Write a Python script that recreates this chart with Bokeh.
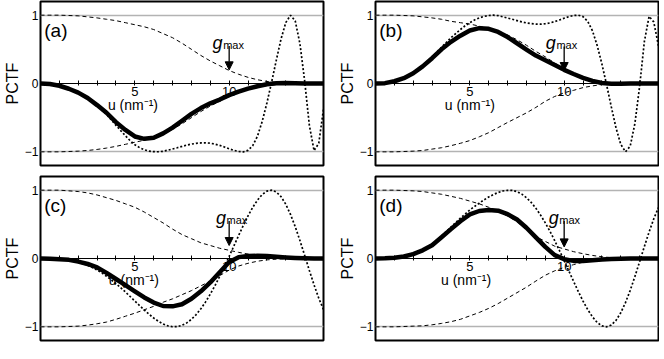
from bokeh.plotting import figure
from bokeh.models import Range1d, FixedTicker, Arrow, NormalHead
from bokeh.layouts import column, row
from bokeh.embed import file_html
from bokeh.resources import INLINE
from bokeh.core.properties import value

FONT = "Liberation Sans"

# sampling positions (nm^-1)
U_HALF = [0, 0.5, 1, 1.5, 2, 2.5, 3, 3.5, 4, 4.5, 5, 5.5, 6, 6.5, 7, 7.5, 8, 8.5, 9, 9.5,
          10, 10.5, 11, 11.5, 12, 12.5, 13, 13.5, 14, 14.5, 15]
U_QTR = [0, 0.25, 0.5, 0.75, 1, 1.25, 1.5, 1.75, 2, 2.25, 2.5, 2.75, 3, 3.25, 3.5, 3.75,
         4, 4.25, 4.5, 4.75, 5, 5.25, 5.5, 5.75, 6, 6.25, 6.5, 6.75, 7, 7.25, 7.5, 7.75,
         8, 8.25, 8.5, 8.75, 9, 9.25, 9.5, 9.75, 10, 10.25, 10.5, 10.75, 11, 11.25, 11.5,
         11.75, 12, 12.25, 12.5, 12.75, 13, 13.25, 13.5, 13.75, 14, 14.25, 14.5, 14.75, 15]

# ---- panel (a)
env_up_a = [1.0, 1.0, 1.0, 0.995, 0.99, 0.975, 0.96, 0.94, 0.92, 0.89, 0.86, 0.83, 0.79, 0.73,
            0.67, 0.59, 0.50, 0.41, 0.33, 0.26, 0.19, 0.135, 0.09, 0.055, 0.03, 0.015, 0.007,
            0.003, 0.001, 0.0, 0.0]
env_lo_a = [-1.0, -1.0, -1.0, -0.995, -0.99, -0.98, -0.965, -0.945, -0.92, -0.89, -0.86, -0.83,
            -0.79, -0.73, -0.67, -0.59, -0.50, -0.41, -0.33, -0.26, -0.19, -0.135, -0.09,
            -0.055, -0.03, -0.015, -0.007, -0.003, -0.001, 0.0, 0.0]
pctf_a = [0.0, -0.008, -0.033, -0.077, -0.134, -0.213, -0.316, -0.428, -0.565, -0.68, -0.775,
          -0.81, -0.795, -0.73, -0.645, -0.545, -0.445, -0.36, -0.29, -0.235, -0.17, -0.12,
          -0.075, -0.04, -0.01, 0.004, 0.006, 0.003, 0.0, 0.0, 0.0]
ctf_a = [0.0, -0.002, -0.008, -0.018, -0.033, -0.053, -0.077, -0.104, -0.135, -0.174, -0.218,
         -0.272, -0.329, -0.389, -0.453, -0.531, -0.613, -0.689, -0.764, -0.836, -0.896, -0.939,
         -0.969, -0.989, -0.998, -0.999, -0.992, -0.976, -0.958, -0.940, -0.921, -0.901,
         -0.887, -0.876, -0.870, -0.868, -0.874, -0.887, -0.906, -0.930, -0.956, -0.978,
         -0.995, -1.0, -0.978, -0.909, -0.771, -0.556, -0.286, 0.02, 0.343, 0.652, 0.891,
         0.999, 0.918, 0.584, 0.042, -0.612, -0.982, -0.875, -0.374]

# ---- panel (b)
env_up_b = [1.0, 1.0, 1.0, 0.995, 0.99, 0.975, 0.96, 0.94, 0.91, 0.89, 0.87, 0.84, 0.80, 0.76,
            0.71, 0.64, 0.56, 0.47, 0.39, 0.30, 0.21, 0.14, 0.085, 0.05, 0.025, 0.01, 0.004,
            0.001, 0.0, 0.0, 0.0]
env_lo_b = [-1.0, -1.0, -1.0, -0.995, -0.99, -0.98, -0.96, -0.94, -0.91, -0.875, -0.835, -0.78,
            -0.72, -0.645, -0.57, -0.50, -0.43, -0.35, -0.26, -0.19, -0.135, -0.10, -0.06,
            -0.035, -0.015, -0.005, 0.0, 0.0, 0.0, 0.0, 0.0]
pctf_b = [0.0, 0.005, 0.033, 0.078, 0.15, 0.25, 0.37, 0.50, 0.61, 0.70, 0.775, 0.81, 0.80,
          0.754, 0.68, 0.589, 0.497, 0.409, 0.341, 0.272, 0.20, 0.139, 0.083, 0.039, 0.007,
          -0.003, -0.004, -0.001, 0.0, 0.0, 0.0]
ctf_b = [0.0, 0.001, 0.005, 0.014, 0.035, 0.055, 0.08, 0.115, 0.16, 0.205, 0.26, 0.32,
         0.39, 0.46, 0.53, 0.60, 0.67, 0.73, 0.79, 0.845, 0.89, 0.93, 0.96, 0.982,
         0.995, 1.0, 0.993, 0.976, 0.958, 0.940, 0.921, 0.901, 0.887, 0.876, 0.870, 0.868,
         0.874, 0.887, 0.906, 0.930, 0.956, 0.978, 0.995, 1.0, 0.978, 0.909, 0.771, 0.556,
         0.286, -0.02, -0.343, -0.652, -0.891, -0.999, -0.918, -0.584, -0.042, 0.612, 0.982,
         0.90, 0.55]

# ---- panel (c)
env_up_c = [1.0, 1.0, 1.0, 0.99, 0.98, 0.96, 0.93, 0.89, 0.85, 0.80, 0.75, 0.68, 0.60, 0.52,
            0.43, 0.35, 0.29, 0.23, 0.19, 0.15, 0.12, 0.09, 0.065, 0.04, 0.02, 0.01, 0.005,
            0.002, 0.0, 0.0, 0.0]
env_lo_c = [-1.0, -1.0, -1.0, -0.995, -0.99, -0.975, -0.955, -0.93, -0.89, -0.845, -0.80,
            -0.75, -0.70, -0.64, -0.59, -0.53, -0.47, -0.40, -0.33, -0.25, -0.17, -0.11,
            -0.07, -0.04, -0.02, -0.01, -0.004, 0.0, 0.0, 0.0, 0.0]
pctf_c = [0.0, -0.002, -0.01, -0.02, -0.045, -0.08, -0.13, -0.21, -0.30, -0.39, -0.48, -0.57,
          -0.645, -0.695, -0.70, -0.67, -0.59, -0.48, -0.35, -0.20, -0.05, 0.02, 0.035, 0.04,
          0.035, 0.025, 0.015, 0.008, 0.003, 0.0, 0.0]
ctf_c = [0.0, -0.001, -0.003, -0.006, -0.01, -0.017, -0.026, -0.039, -0.055, -0.075, -0.101,
         -0.133, -0.169, -0.211, -0.259, -0.311, -0.367, -0.427, -0.49, -0.556, -0.622, -0.688,
         -0.753, -0.815, -0.871, -0.919, -0.958, -0.985, -0.999, -0.997, -0.978, -0.943,
         -0.890, -0.821, -0.736, -0.635, -0.521, -0.396, -0.26, -0.117, 0.032, 0.184, 0.335,
         0.484, 0.623, 0.748, 0.854, 0.936, 0.986, 1.0, 0.973, 0.905, 0.794, 0.645, 0.466,
         0.264, 0.046, -0.174, -0.387, -0.581, -0.747]

# ---- panel (d)
env_up_d = [1.0, 1.0, 1.0, 0.995, 0.99, 0.98, 0.96, 0.94, 0.91, 0.88, 0.84, 0.80, 0.75, 0.69,
            0.62, 0.54, 0.42, 0.32, 0.25, 0.18, 0.14, 0.10, 0.07, 0.045, 0.025, 0.012, 0.005,
            0.002, 0.0, 0.0, 0.0]
env_lo_d = [-1.0, -1.0, -1.0, -0.995, -0.99, -0.985, -0.97, -0.95, -0.925, -0.89, -0.84, -0.79,
            -0.73, -0.66, -0.58, -0.50, -0.42, -0.33, -0.245, -0.18, -0.13, -0.09, -0.055,
            -0.035, -0.02, -0.01, -0.004, 0.0, 0.0, 0.0, 0.0]
pctf_d = [0.0, 0.002, 0.01, 0.03, 0.065, 0.12, 0.195, 0.31, 0.43, 0.545, 0.645, 0.695, 0.71,
          0.70, 0.65, 0.57, 0.45, 0.31, 0.17, 0.05, -0.01, -0.035, -0.035, -0.025, -0.015,
          -0.008, -0.003, 0.0, 0.0, 0.0, 0.0]
ctf_d = [0.0, 0.001, 0.004, 0.009, 0.016, 0.026, 0.04, 0.057, 0.078, 0.103, 0.131, 0.167,
         0.21, 0.265, 0.33, 0.395, 0.46, 0.525, 0.59, 0.65, 0.71, 0.762, 0.81, 0.858,
         0.90, 0.937, 0.965, 0.988, 0.998, 0.997, 0.978, 0.943, 0.890, 0.821, 0.736, 0.635,
         0.521, 0.396, 0.26, 0.117, -0.032, -0.184, -0.335, -0.484, -0.623, -0.748, -0.854,
         -0.936, -0.986, -1.0, -0.973, -0.905, -0.794, -0.645, -0.466, -0.264, -0.046, 0.174,
         0.387, 0.581, 0.747]

# ---- labels and annotations
PANEL_TAGS = ["(a)", "(b)", "(c)", "(d)"]
Y_TICKS = [-1, 0, 1]
Y_TICK_LABELS = {-1: "\u22121", 0: "0", 1: "1"}
X_MAJOR_TICKS = [5, 10]
X_MINOR_TICKS = [1, 2, 3, 4, 6, 7, 8, 9, 11, 12, 13, 14]
X_LABEL = "u (nm\u207b\u00b9)"
X_LABEL_U = [4.9, 5.0, 4.95, 4.8]
X_LABEL_V = -0.31
GMAX_U = [10, 10, 10, 10]
GMAX_TEXT_U = [9.12, 9.03, 9.3, 9.18]
GMAX_TEXT_V = 0.6
GMAX_ARROW_TOP = [0.55, 0.54, 0.55, 0.55]
GMAX_ARROW_TIP = [0.2, 0.19, 0.19, 0.17]

W, H = 283, 164


def panel(i, env_up, env_lo, ctf, pctf, lb, rb, tb, bb):
    p = figure(frame_width=W, frame_height=H, x_range=Range1d(0, 15),
               y_range=Range1d(-1.2, 1.2), output_backend="svg", toolbar_location=None,
               min_border_left=lb, min_border_right=rb, min_border_top=tb,
               min_border_bottom=bb, background_fill_color="white",
               border_fill_color="white")
    p.outline_line_color = "black"
    p.outline_line_width = 2
    p.outline_line_alpha = 1
    p.xgrid.visible = False
    p.ygrid.ticker = FixedTicker(ticks=[-1, 1])
    p.ygrid.grid_line_color = "#b3b3b3"
    p.ygrid.grid_line_width = 1.3

    xa = p.xaxis[0]
    xa.fixed_location = 0
    xa.ticker = FixedTicker(ticks=X_MAJOR_TICKS, minor_ticks=X_MINOR_TICKS)
    xa.major_label_overrides = {5: "5", 10: "10"}
    xa.major_label_text_font = FONT
    xa.major_label_text_font_size = "13px"
    xa.major_label_text_color = "black"
    xa.major_label_standoff = 1
    xa.major_tick_in = 3
    xa.major_tick_out = 2
    xa.minor_tick_in = 3
    xa.minor_tick_out = 2
    xa.axis_line_color = "black"
    xa.axis_line_width = 1
    xa.major_tick_line_color = "black"
    xa.minor_tick_line_color = "black"

    ya = p.yaxis[0]
    ya.ticker = FixedTicker(ticks=Y_TICKS)
    ya.major_label_overrides = Y_TICK_LABELS
    ya.major_label_text_font = FONT
    ya.major_label_text_font_size = "12px"
    ya.major_label_text_color = "black"
    ya.major_label_standoff = 2
    ya.major_tick_in = 0
    ya.major_tick_out = 0
    ya.minor_tick_in = 0
    ya.minor_tick_out = 0
    ya.axis_line_color = None
    ya.axis_label = "PCTF"
    ya.axis_label_text_font = FONT
    ya.axis_label_text_font_size = "16px"
    ya.axis_label_text_font_style = "normal"
    ya.axis_label_text_color = "black"
    ya.axis_label_standoff = 1

    p.line(U_HALF, env_up, line_color="black", line_width=1, line_dash="4 3")
    p.line(U_HALF, env_lo, line_color="black", line_width=1, line_dash="4 3")
    p.line(U_QTR, ctf, line_color="black", line_width=1.7, line_dash="2 2")
    p.line(U_HALF, pctf, line_color="black", line_width=4.5, line_join="round")

    p.text(x=[0.2], y=[0.77], text=[PANEL_TAGS[i]], text_font=value(FONT),
           text_font_size="19px", text_baseline="middle", text_align="left",
           text_color="black")
    p.text(x=[X_LABEL_U[i]], y=[X_LABEL_V], text=[X_LABEL], text_font=value(FONT),
           text_font_size="14px", text_baseline="middle", text_align="center",
           text_color="black")
    p.text(x=[GMAX_TEXT_U[i]], y=[GMAX_TEXT_V], text=["g"], text_font=value(FONT),
           text_font_size="18px", text_font_style="italic", text_baseline="alphabetic",
           text_align="left", text_color="black")
    p.text(x=[GMAX_TEXT_U[i] + 0.56], y=[GMAX_TEXT_V - 0.03], text=["max"],
           text_font=value(FONT), text_font_size="11px", text_baseline="alphabetic",
           text_align="left", text_color="black")
    p.add_layout(Arrow(end=NormalHead(size=8, fill_color="black", line_color="black",
                                      line_width=1),
                       x_start=GMAX_U[i], y_start=GMAX_ARROW_TOP[i],
                       x_end=GMAX_U[i], y_end=GMAX_ARROW_TIP[i],
                       line_color="black", line_width=1.3))
    return p


pa = panel(0, env_up_a, env_lo_a, ctf_a, pctf_a, 30, 12, 1, 5)
pb = panel(1, env_up_b, env_lo_b, ctf_b, pctf_b, 30, 1, 1, 5)
pc = panel(2, env_up_c, env_lo_c, ctf_c, pctf_c, 30, 12, 6, 2)
pd = panel(3, env_up_d, env_lo_d, ctf_d, pctf_d, 30, 1, 6, 2)

layout = column(row(pa, pb), row(pc, pd))

with open("out.html", "w") as f:
    f.write(file_html(layout, INLINE))
